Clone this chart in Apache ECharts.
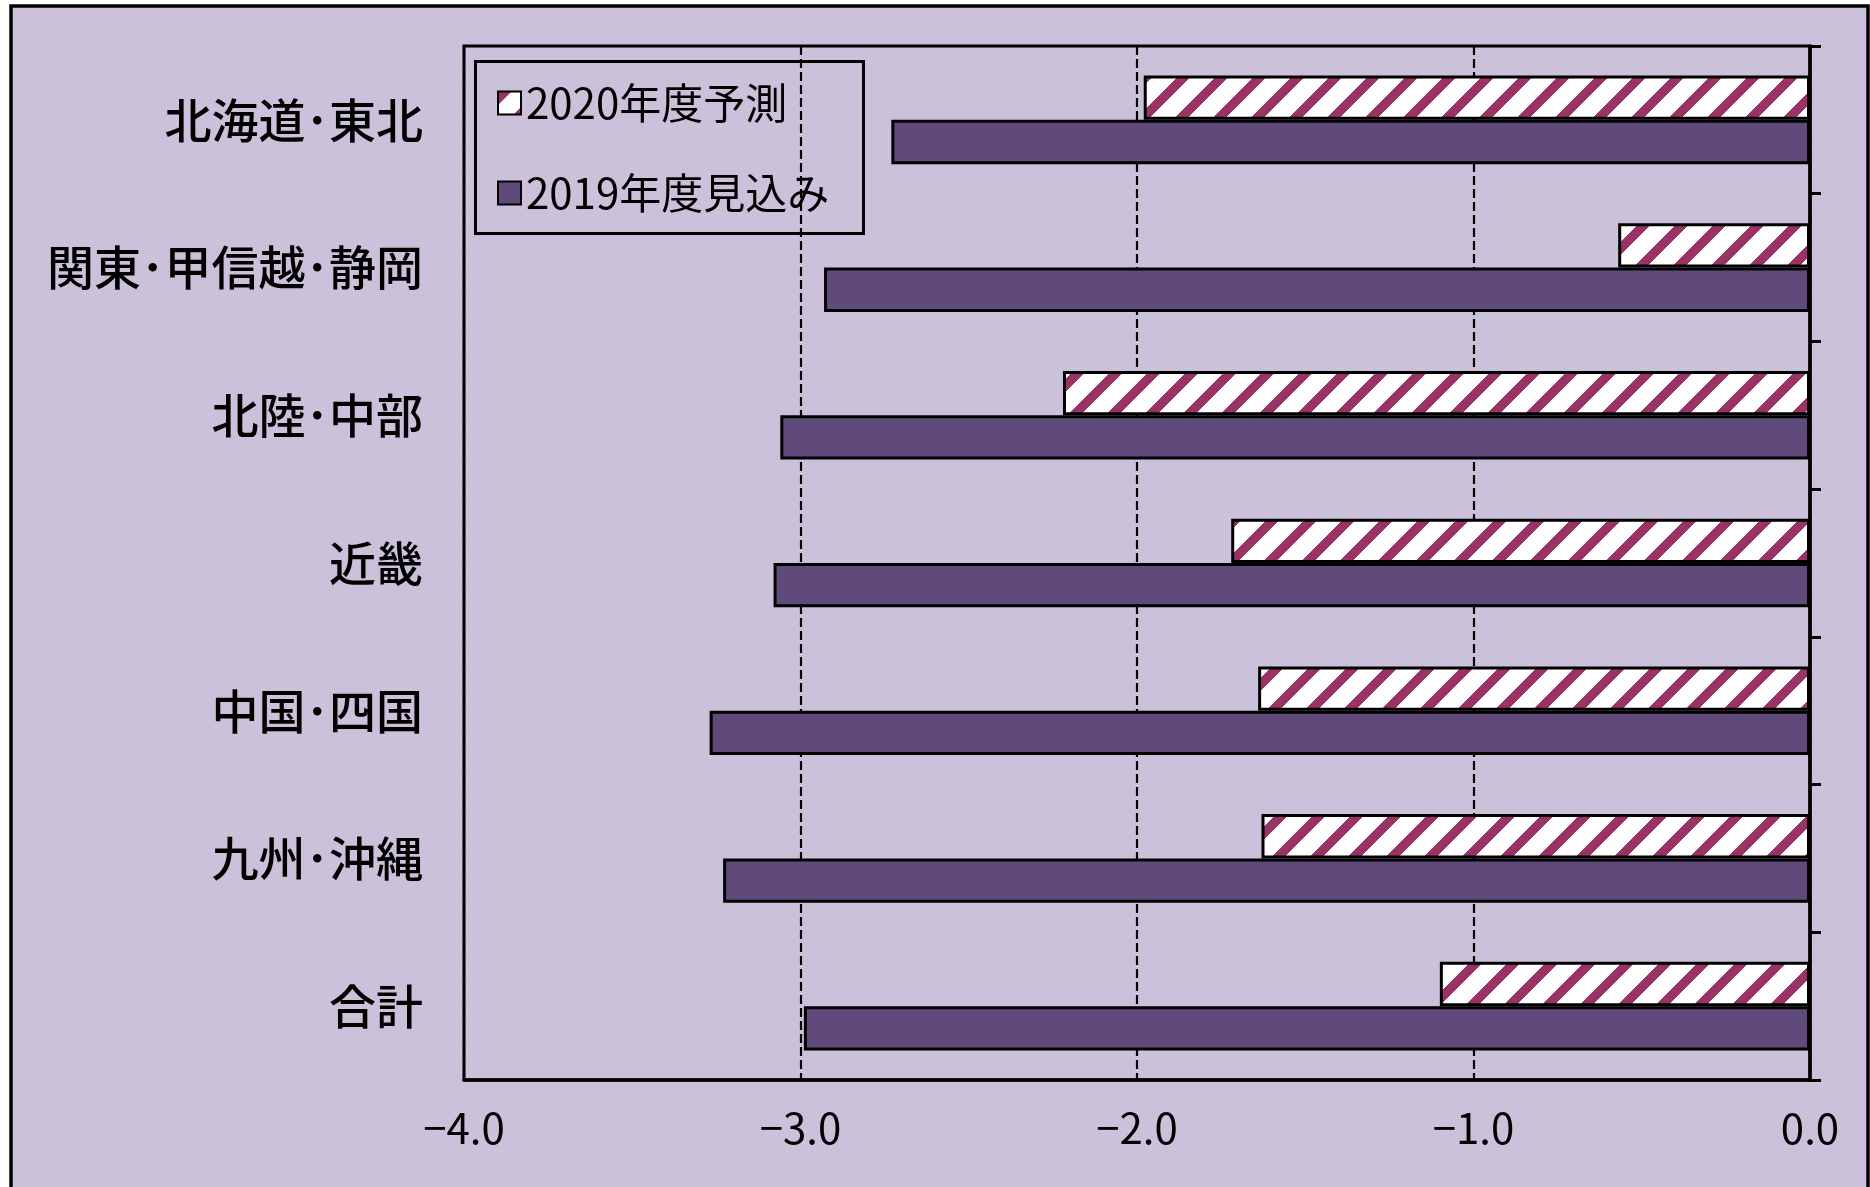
<!DOCTYPE html>
<html><head><meta charset="utf-8">
<script src="https://cdn.jsdelivr.net/npm/echarts@6/dist/echarts.min.js"></script>
<style>html,body{margin:0;padding:0;background:#fff}#c{width:1870px;height:1187px}</style>
</head><body><div id="c"></div>
<script>
// ---- data ----
const categories = ['北海道･東北', '関東･甲信越･静岡', '北陸･中部', '近畿', '中国･四国', '九州･沖縄', '合計'];
const seriesNames = ['2020年度予測', '2019年度見込み'];
const values2020 = [-1.98, -0.57, -2.22, -1.72, -1.64, -1.63, -1.10];
const values2019 = [-2.73, -2.93, -3.06, -3.08, -3.27, -3.23, -2.99];
const xTickValues = [-4, -3, -2, -1, 0];

// ---- styles ----
const FONT = "'Noto Sans CJK JP', 'Noto Sans', sans-serif";
const BG = '#CCC1DA';
const DARK = '#604A7B';

function makeHatch() {
  const P = 38, W = 13;
  const cv = document.createElement('canvas');
  cv.width = P; cv.height = P;
  const ctx = cv.getContext('2d');
  const img = ctx.createImageData(P, P);
  for (let y = 0; y < P; y++) {
    for (let x = 0; x < P; x++) {
      const i = (y * P + x) * 4;
      const on = ((x + y) % P) < W;
      if (on) { img.data[i] = 0x99; img.data[i + 1] = 0x33; img.data[i + 2] = 0x66; }
      else { img.data[i] = 255; img.data[i + 1] = 255; img.data[i + 2] = 255; }
      img.data[i + 3] = 255;
    }
  }
  ctx.putImageData(img, 0, 0);
  return cv;
}
const hatch = { image: makeHatch(), repeat: 'repeat' };

const chart = echarts.init(document.getElementById('c'), null, { renderer: 'canvas' });
chart.setOption({
  backgroundColor: '#ffffff',
  animation: false,
  textStyle: { fontFamily: FONT },
  graphic: [
    { type: 'rect', z: -100, silent: true,
      shape: { x: 11, y: 6, width: 1857, height: 1250 },
      style: { fill: BG, stroke: '#000', lineWidth: 3.5 } },
    { type: 'rect', z: 100, silent: true,
      shape: { x: 475.5, y: 61.5, width: 388, height: 172 },
      style: { fill: 'none', stroke: '#000', lineWidth: 3 } }
  ],
  grid: {
    left: 464, right: 60, top: 46, bottom: 107,
    show: true, borderColor: '#000', borderWidth: 3, backgroundColor: 'transparent'
  },
  legend: {
    orient: 'vertical', left: 497, top: 82, padding: 0,
    itemWidth: 23, itemHeight: 23, itemGap: 48,
    icon: 'rect',
    textStyle: { fontSize: 42, lineHeight: 42, color: '#000', fontFamily: FONT },
    data: seriesNames
  },
  xAxis: {
    type: 'value',
    min: xTickValues[0], max: xTickValues[xTickValues.length - 1], interval: 1,
    axisLine: { show: true, onZero: false, lineStyle: { color: '#000', width: 3.5 } },
    axisTick: { show: false },
    axisLabel: {
      fontSize: 42, color: '#000', margin: 27, fontFamily: FONT,
      formatter: v => v.toFixed(1).replace('-', '\u2212')
    },
    splitLine: { show: true, lineStyle: { color: '#000', width: 2.2, type: [9, 4] } }
  },
  yAxis: [
    {
      type: 'category', data: categories, inverse: true, position: 'left',
      axisLine: { show: false, onZero: false },
      axisTick: { show: false },
      axisLabel: { fontSize: 47, fontWeight: 500, color: '#000', margin: 41, fontFamily: FONT,
                   padding: [0, 0, 7, 0] }
    },
    {
      type: 'category', data: categories, inverse: true, position: 'right',
      axisLine: { show: true, onZero: false, lineStyle: { color: '#000', width: 3.5 } },
      axisTick: { show: true, inside: false, length: 11, lineStyle: { color: '#000', width: 3 } },
      axisLabel: { show: false }
    }
  ],
  series: [
    {
      name: seriesNames[0], type: 'bar', yAxisIndex: 0,
      data: values2020, barGap: '0%', barCategoryGap: '40%',
      itemStyle: { color: hatch, borderColor: '#000', borderWidth: 3 }
    },
    {
      name: seriesNames[1], type: 'bar', yAxisIndex: 0,
      data: values2019,
      itemStyle: { color: DARK, borderColor: '#000', borderWidth: 3 }
    }
  ]
});
</script></body></html>
